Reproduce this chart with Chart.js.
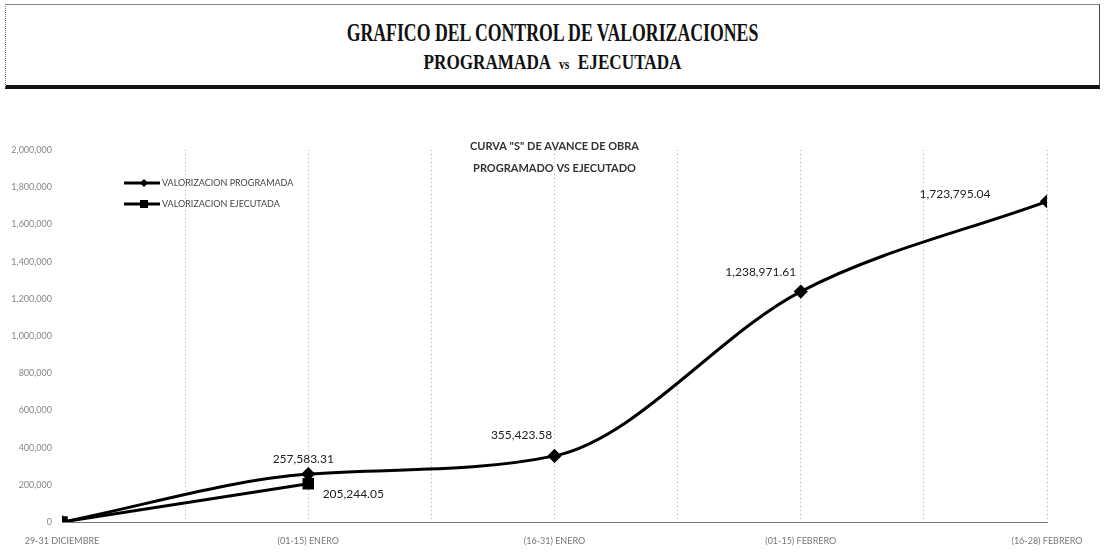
<!DOCTYPE html>
<html><head><meta charset="utf-8">
<script src="https://cdn.jsdelivr.net/npm/chart.js@4"></script>
<style>
html,body{margin:0;padding:0;background:#fff;}
#wrap{position:relative;width:1107px;height:556px;overflow:hidden;background:#fff;}
#titlebox{position:absolute;left:5px;top:4px;width:1095px;height:85px;border-top:1px solid #888;border-left:1px dotted #777;border-right:1px solid #444;border-bottom:4px solid #111;box-sizing:border-box;}
.t{position:absolute;left:0;right:0;text-align:center;font-family:"Liberation Serif",serif;font-weight:bold;color:#111;white-space:nowrap;line-height:1;}
#t1{top:15px;font-size:25px;transform:scaleX(0.71);}
#t2{top:46px;font-size:22px;transform:scaleX(0.78);}
canvas{position:absolute;left:0;top:0;}
</style></head>
<body><div id="wrap">
<div id="titlebox"><div class="t" id="t1">GRAFICO DEL CONTROL DE VALORIZACIONES</div><div class="t" id="t2">PROGRAMADA &nbsp;<span style="font-size:15px">vs</span>&nbsp; EJECUTADA</div></div>
<canvas id="c" width="1107" height="556"></canvas>
</div>
<script>
const categories = ["29-31 DICIEMBRE", "(01-15) ENERO", "(16-31) ENERO", "(01-15) FEBRERO", "(16-28) FEBRERO"];
const programada = [0, 257583.31, 355423.58, 1238971.61, 1723795.04];
const ejecutada = [0, 205244.05];
const seriesNames = ["VALORIZACION PROGRAMADA", "VALORIZACION EJECUTADA"];
const chartTitle = ['CURVA "S" DE AVANCE DE OBRA', "PROGRAMADO VS EJECUTADO"];

const fmt = v => v.toLocaleString('en-US', {minimumFractionDigits: 2, maximumFractionDigits: 2});
const toXY = arr => arr.map((v, i) => ({x: i, y: v}));

// label offsets (relative to each point) per dataset
const labelOffsets = [
  [null, [-5, -15], [-33, -21], [-40, -19], [-92, -7]],
  [null, [45, 10]]
];

const overlayPlugin = {
  id: 'overlay',
  afterDatasetsDraw(chart) {
    const {ctx, chartArea} = chart;
    ctx.save();
    ctx.fillStyle = '#333';
    ctx.font = 'bold 11px Lato, "Open Sans", sans-serif';
    ctx.textAlign = 'center';
    ctx.textBaseline = 'middle';
    const cx = (chartArea.left + chartArea.right) / 2;
    ctx.fillText(chartTitle[0], cx, chartArea.top - 4);
    ctx.fillText(chartTitle[1], cx, chartArea.top + 18);
    ctx.font = '12px Lato, "Open Sans", sans-serif';
    ctx.fillStyle = '#222';
    chart.data.datasets.forEach((ds, di) => {
      const meta = chart.getDatasetMeta(di);
      meta.data.forEach((pt, i) => {
        const off = labelOffsets[di][i];
        if (!off) return;
        ctx.fillText(fmt(ds.data[i].y), pt.x + off[0], pt.y + off[1]);
      });
    });
    ctx.font = '9px Lato, "Open Sans", sans-serif';
    ctx.textAlign = 'left';
    chart.data.datasets.forEach((ds, di) => {
      const y = chartArea.top + 33 + di * 21;
      const x0 = chartArea.left + 62;
      ctx.strokeStyle = '#000';
      ctx.lineWidth = 3;
      ctx.beginPath(); ctx.moveTo(x0, y); ctx.lineTo(x0 + 36, y); ctx.stroke();
      ctx.fillStyle = '#000';
      const mx = x0 + 20;
      if (ds.pointStyle === 'rect') {
        ctx.fillRect(mx - 4, y - 4, 8, 8);
      } else {
        ctx.beginPath(); ctx.moveTo(mx, y - 4); ctx.lineTo(mx + 4, y); ctx.lineTo(mx, y + 4); ctx.lineTo(mx - 4, y); ctx.closePath(); ctx.fill();
      }
      ctx.fillStyle = '#444';
      ctx.fillText(ds.label, x0 + 38, y);
    });
    ctx.restore();
  }
};

new Chart(document.getElementById('c'), {
  type: 'line',
  data: {
    datasets: [
      {label: seriesNames[0], data: toXY(programada), borderColor: '#000', backgroundColor: '#000', borderWidth: 3,
       cubicInterpolationMode: 'monotone', pointStyle: 'rectRot', pointRadius: 5, pointHoverRadius: 5},
      {label: seriesNames[1], data: toXY(ejecutada), borderColor: '#000', backgroundColor: '#000', borderWidth: 3,
       tension: 0, pointStyle: 'rect', pointRadius: 6, pointHoverRadius: 6}
    ]
  },
  options: {
    responsive: false,
    animation: false,
    layout: {padding: {top: 150, right: 60, bottom: 0, left: 0}},
    plugins: {legend: {display: false}, tooltip: {enabled: false}, title: {display: false}},
    scales: {
      x: {
        type: 'linear', min: 0, max: categories.length - 1,
        ticks: {stepSize: 0.5, autoSkip: false, maxRotation: 0, padding: 14, color: '#777',
                font: {family: 'Lato, "Open Sans", sans-serif', size: 9},
                callback: v => Number.isInteger(v) ? categories[v] : ''},
        grid: {drawTicks: false, color: (c) => c.index === 0 ? 'rgba(0,0,0,0)' : '#aaa', lineWidth: 1},
        border: {display: true, color: '#777', width: 1, dash: [1, 3]},
        afterFit: s => { s.height = 34; }
      },
      y: {
        min: 0, max: 2000000,
        ticks: {stepSize: 200000, padding: 10, color: '#888',
                font: {family: 'Lato, "Open Sans", sans-serif', size: 9},
                callback: v => v.toLocaleString('en-US')},
        grid: {display: false, drawTicks: false},
        border: {display: false},
        afterFit: s => { s.width = 62; }
      }
    }
  },
  plugins: [overlayPlugin]
});
</script>
</body></html>
